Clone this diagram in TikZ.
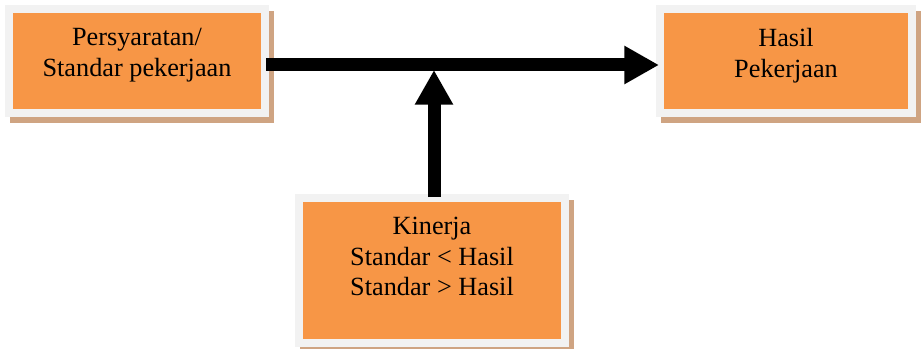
\documentclass[tikz,border=0pt]{standalone}
\usepackage{fontspec}
\setmainfont{Liberation Serif}
\usetikzlibrary{arrows.meta,calc,backgrounds}
\definecolor{boxfill}{HTML}{F79646}
\definecolor{boxframe}{HTML}{F2F2F2}
\definecolor{boxshadow}{HTML}{CFA482}
\begin{document}
\begin{tikzpicture}[x=0.75pt,y=-0.75pt,
  box/.style={rectangle,fill=boxfill,draw=boxframe,line width=6pt,inner sep=0pt},
  label text/.style={anchor=north,inner sep=0pt,align=center,
    font=\fontsize{19.7}{23}\selectfont},
  bigarrow/.style={line width=9.75pt,-{Triangle[length=26pt,width=27pt]}}
]
\useasboundingbox (0,0) rectangle (923,349);

% boxes (sizes are those of the border path)
\node[box,minimum width=192pt,minimum height=78pt] (b1) at (137,61) {};
\node[box,minimum width=189pt,minimum height=78pt] (b2) at (786,61) {};
\node[box,minimum width=199.5pt,minimum height=108.75pt] (b3) at (432,270.5) {};

% drop shadows
\begin{scope}[on background layer]
  \foreach \b in {b1,b2,b3}
    \fill[boxshadow] ($(\b.north west)+(5,6)$) rectangle ($(\b.south east)+(5,6)$);
\end{scope}

% texts, anchored at the top of each box
\node[label text] (t1) at ($(b1.north)+(0,23)$) {Persyaratan/\\Standar pekerjaan};
\node[label text] (t2) at ($(b2.north)+(0,23)$) {Hasil\\Pekerjaan};
\node[label text] (t3) at ($(b3.north)+(0,23)$) {Kinerja\\Standar < Hasil\\Standar > Hasil};

% connectors
\coordinate (join) at ($(b3.north |- b1.east)+(2,9)$);
\draw[bigarrow] ($(b1.east)+(-3,4)$) -- ($(b2.west)+(3,4)$);
\draw[bigarrow] ($(b3.north)+(2,3)$) -- (join);
\end{tikzpicture}
\end{document}
